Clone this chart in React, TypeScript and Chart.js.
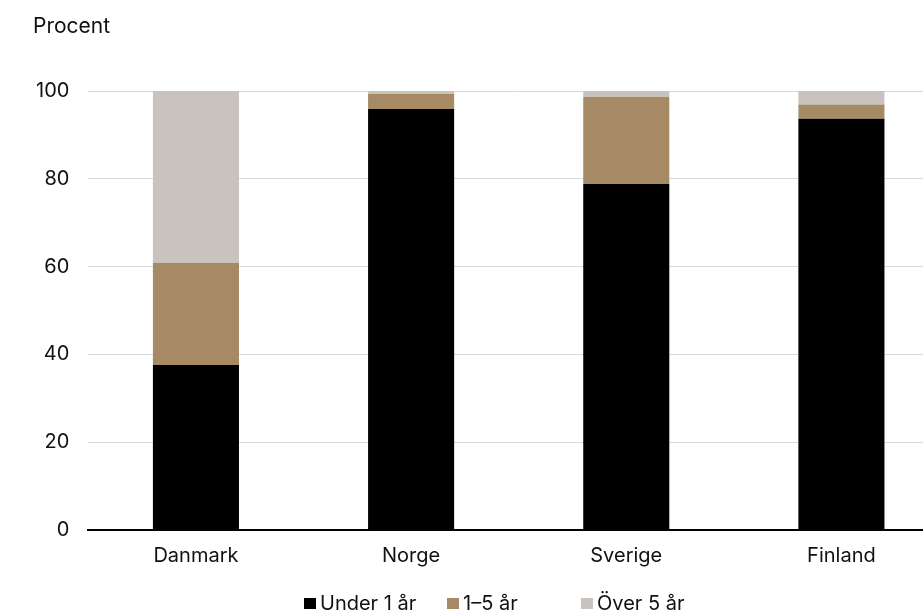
import React, { useEffect, useRef } from "react";
import { Chart, registerables } from "chart.js";

Chart.register(...registerables);

const categories = ["Danmark", "Norge", "Sverige", "Finland"];
const seriesNames = ["Under 1 år", "1–5 år", "Över 5 år"];
const under1 = [37.6, 95.9, 78.8, 93.7];
const oneToFive = [23.3, 3.4, 19.9, 3.2];
const over5 = [39.1, 0.7, 1.3, 3.1];
const yTicks = [0, 20, 40, 60, 80, 100];
const yTitle = "Procent";

const COLORS = ["#000000", "#a68a65", "#c8c3bf"];
const FONT = "Inter, 'Noto Sans', sans-serif";
const TEXT = "#111111";

const textPlugin = {
  id: "customTexts",
  afterDraw(chart: any) {
    const ctx = chart.ctx;
    ctx.save();
    // axis unit title
    ctx.font = `21px ${FONT}`;
    ctx.fillStyle = TEXT;
    ctx.textAlign = "left";
    ctx.textBaseline = "alphabetic";
    ctx.fillText(yTitle, 33, 33);
    // legend
    const starts = [304, 447, 581];
    ctx.font = `20px ${FONT}`;
    ctx.textBaseline = "middle";
    chart.data.datasets.forEach((ds: any, i: number) => {
      const x = starts[i];
      ctx.fillStyle = ds.backgroundColor;
      ctx.fillRect(x, 598, 12, 11);
      ctx.fillStyle = TEXT;
      ctx.fillText(ds.label, x + 16, 604);
    });
    ctx.restore();
  },
};

export default function App() {
  const ref = useRef<HTMLCanvasElement | null>(null);
  useEffect(() => {
    if (!ref.current) return;
    const chart = new Chart(ref.current, {
      type: "bar",
      data: {
        labels: categories,
        datasets: [under1, oneToFive, over5].map((d, i) => ({
          label: seriesNames[i],
          data: d,
          backgroundColor: COLORS[i],
          borderWidth: 0,
          barPercentage: 0.4,
          categoryPercentage: 1.0,
        })),
      },
      options: {
        responsive: false,
        animation: false,
        layout: { padding: { left: 17, right: 1, top: 91, bottom: 31 } },
        font: { family: FONT },
        plugins: {
          legend: { display: false },
          tooltip: { enabled: false },
          title: { display: false },
        },
        scales: {
          x: {
            stacked: true,
            grid: { display: false, drawTicks: false },
            border: { display: true, color: "#000000", width: 2 },
            ticks: {
              color: TEXT,
              padding: 14,
              font: { family: FONT, size: 20 },
              maxRotation: 0,
            },
          },
          y: {
            stacked: true,
            min: 0,
            max: 100,
            afterBuildTicks: (axis: any) => {
              axis.ticks = yTicks.map((v) => ({ value: v }));
            },
            grid: { color: "#d9d9d9", lineWidth: 1, drawTicks: false },
            border: { display: false },
            ticks: {
              color: TEXT,
              padding: 19,
              font: { family: FONT, size: 20 },
            },
          },
        },
      },
      plugins: [textPlugin],
    } as any);
    return () => chart.destroy();
  }, []);

  return (
    <div
      style={{
        position: "fixed",
        left: 0,
        top: 0,
        width: 923,
        height: 613,
        overflow: "hidden",
        background: "#ffffff",
      }}
    >
      <canvas ref={ref} width={950} height={613} style={{ display: "block" }} />
    </div>
  );
}
